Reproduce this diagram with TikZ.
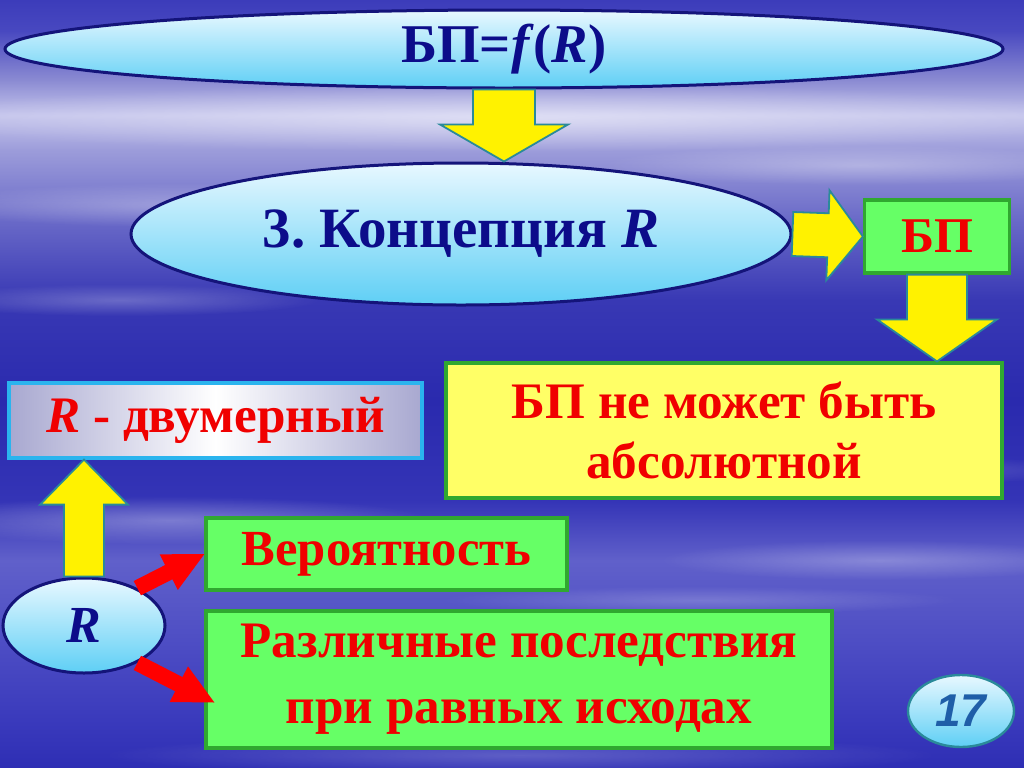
\documentclass[tikz,border=0pt]{standalone}
\usepackage{fontspec}
\setmainfont{Liberation Serif}
\newfontfamily\arialf{Liberation Sans}
\usetikzlibrary{calc,shapes.geometric,fadings}
\frenchspacing

\definecolor{navytxt}{HTML}{0C0C8A}
\definecolor{navyline}{HTML}{14147A}
\definecolor{redtxt}{HTML}{F00000}
\definecolor{greenfill}{HTML}{66FF66}
\definecolor{greenline}{HTML}{30A830}
\definecolor{yellowfill}{HTML}{FFFF66}
\definecolor{arrowline}{HTML}{2A8A9A}
\definecolor{skyA}{HTML}{E8F8FF}
\definecolor{skyB}{HTML}{5ECFF5}
\definecolor{grayside}{HTML}{A8A8D0}
\definecolor{cyanline}{HTML}{2AB4EE}
\definecolor{numtxt}{HTML}{1F5EA8}

\definecolor{bgA}{HTML}{2E2EB4}
\definecolor{bgB}{HTML}{3A3ABC}
\definecolor{bgC}{HTML}{4E4EC4}
\definecolor{bgD}{HTML}{6060CA}
\definecolor{bgE}{HTML}{3434B6}
\definecolor{bgF}{HTML}{2A2AAE}
\definecolor{bgG}{HTML}{3838B4}
\definecolor{bgH}{HTML}{6A6AC8}
\definecolor{bgI}{HTML}{9C9CDA}
\definecolor{bgJ}{HTML}{C4C4EC}
\definecolor{bgK}{HTML}{8A8AD2}
\definecolor{bgL}{HTML}{4848C0}
\definecolor{bgM}{HTML}{3C3CBA}

\pgfdeclareverticalshading{bgshade}{100bp}{%
color(0bp)=(bgA); color(25bp)=(bgA); color(28.1bp)=(bgB); color(33.3bp)=(bgC);
color(38.5bp)=(bgD); color(42.4bp)=(bgE); color(48.9bp)=(bgF); color(55.4bp)=(bgG);
color(60.7bp)=(bgH); color(65.2bp)=(bgI); color(67.5bp)=(bgJ); color(69.8bp)=(bgK);
color(73bp)=(bgL); color(75bp)=(bgM); color(100bp)=(bgM)}

\tikzfading[name=softfade, inner color=transparent!0, outer color=transparent!100]

\newcommand\blockarrow[6]{%
  \coordinate (ba-a) at (#2);
  \coordinate (ba-b) at (#3);
  \coordinate (ba-n) at ($(ba-b)!#6!(ba-a)$);
  \path[#1] ($(ba-a)!#4!90:(ba-b)$) -- ($(ba-n)!#4!90:(ba-b)$) -- ($(ba-n)!#5!90:(ba-b)$)
    -- (ba-b) -- ($(ba-n)!#5!-90:(ba-b)$) -- ($(ba-n)!#4!-90:(ba-b)$)
    -- ($(ba-a)!#4!-90:(ba-b)$) -- cycle;}

\tikzset{
  oval/.style={ellipse, draw=navyline, line width=1.5pt, top color=skyA, bottom color=skyB, inner sep=0pt, text=navytxt, font=\bfseries},
  greenbox/.style={rectangle, draw=greenline, line width=1.6pt, fill=greenfill, inner sep=0pt, text=redtxt, align=center},
  yellowbox/.style={rectangle, draw=greenline, line width=1.6pt, fill=yellowfill, inner sep=0pt, text=redtxt, align=center},
  grayboxst/.style={rectangle, draw=cyanline, line width=1.6pt, left color=grayside, right color=grayside, middle color=white, inner sep=0pt, text=redtxt},
  yarrow/.style={fill=yellow, draw=arrowline, line width=0.9pt, line join=miter},
  rarrow/.style={fill=red, draw=none},
  streak/.style={fill=white, path fading=softfade}
}

\begin{document}
\begin{tikzpicture}[x=0.5pt,y=-0.5pt]
\useasboundingbox (0,0) rectangle (1024,767);
\shade[shading=bgshade] (0,0) rectangle (1024,767);
% cloud streaks
\fill[streak, opacity=0.45] (512,118) ellipse [x radius=620, y radius=34];
\fill[streak, opacity=0.30] (180,205) ellipse [x radius=260, y radius=22];
\fill[streak, opacity=0.30] (860,165) ellipse [x radius=260, y radius=20];
\fill[streak, opacity=0.25] (120,300) ellipse [x radius=200, y radius=16];
\fill[streak, opacity=0.30] (170,520) ellipse [x radius=260, y radius=24];
\fill[streak, opacity=0.25] (880,560) ellipse [x radius=220, y radius=20];
\fill[streak, opacity=0.20] (700,600) ellipse [x radius=260, y radius=14];
\fill[streak, opacity=0.22] (520,755) ellipse [x radius=420, y radius=20];
\fill[streak, opacity=0.18] (900,470) ellipse [x radius=200, y radius=14];

% nodes
\node[oval, minimum width=499pt, minimum height=39pt, font=\bfseries\fontsize{27.3}{30}\selectfont] (top) at (504,49) {БП=\textit{f}(\textit{R})};
\node[oval, minimum width=330pt, minimum height=71pt, font=\bfseries\fontsize{28.5}{32}\selectfont] (mid) at (461,234) {3. Концепция \textit{R}};
\node[greenbox, minimum width=72.5pt, minimum height=36.5pt, font=\bfseries\fontsize{25}{28}\selectfont] (bp) at (937,236.5) {БП};
\node[yellowbox, minimum width=278pt, minimum height=67.5pt, font=\bfseries\fontsize{25.6}{30}\selectfont] (abs) at (724,430.5) {БП не может быть\\абсолютной};
\node[grayboxst, minimum width=206.5pt, minimum height=37.5pt, font=\bfseries\fontsize{25.6}{28}\selectfont] (dv) at (215.5,420.5) {\textit{R} - двумерный};
\node[greenbox, minimum width=180.5pt, minimum height=36pt, font=\bfseries\fontsize{25.3}{28}\selectfont] (ver) at (386.5,554) {Вероятность};
\node[greenbox, minimum width=313pt, minimum height=68.5pt, font=\bfseries\fontsize{25.6}{33}\selectfont] (razl) at (519,679.5) {Различные последствия\\при равных исходах};
\node[oval, minimum width=81pt, minimum height=47.5pt, font=\bfseries\itshape\fontsize{26}{30}\selectfont] (R) at (84,625.5) {R};
\node[ellipse, draw=arrowline, line width=1.2pt, top color=skyA, bottom color=skyB, inner sep=0pt, minimum width=53pt, minimum height=36pt, text=numtxt, font=\arialf\bfseries\itshape\fontsize{23}{26}\selectfont] (num) at (961,711) {17};

% yellow block arrows
\blockarrow{yarrow}{top.south}{top.south |- mid.north}{15.5pt}{32pt}{18.5pt}
\blockarrow{yarrow}{mid.east}{bp.west}{11pt}{22.5pt}{17.5pt}
\blockarrow{yarrow}{bp.south}{bp.south |- abs.north}{15pt}{30pt}{21pt}
\blockarrow{yarrow}{R.north}{R.north |- dv.south}{10pt}{22pt}{22.5pt}
% red arrows
\blockarrow{rarrow}{R.35}{ver.west}{4pt}{10pt}{20pt}
\blockarrow{rarrow}{R.-35}{$(razl.west)+(10,23)$}{4pt}{10pt}{20pt}
\end{tikzpicture}
\end{document}
